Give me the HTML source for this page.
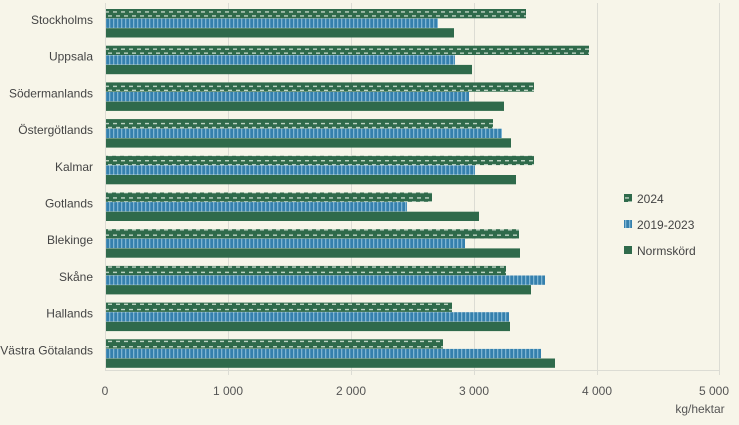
<!DOCTYPE html>
<html><head><meta charset="utf-8"><style>
body{margin:0;background:#f7f5e9;}
svg{display:block;font-family:"Liberation Sans",sans-serif;}
</style></head><body>
<svg width="739" height="425" viewBox="0 0 739 425">
<defs>
<pattern id="p24" width="8" height="9.3" patternUnits="userSpaceOnUse">
<rect width="8" height="9.3" fill="#2f6a4b"/>
<rect x="1" y="2" width="4" height="1.3" fill="#c9dccd"/>
<rect x="4" y="6" width="4" height="1.3" fill="#c9dccd"/>
</pattern>
<pattern id="p19" width="4" height="10" patternUnits="userSpaceOnUse">
<rect width="4" height="10" fill="#3580ad"/>
<rect x="1" width="1.3" height="10" fill="#7fb5d3"/>
</pattern>
</defs>
<rect width="739" height="425" fill="#f7f5e9"/>
<g stroke="#dcdcd4" stroke-width="1">
<line x1="105.5" y1="3" x2="105.5" y2="371"/>
<line x1="228.5" y1="3" x2="228.5" y2="375"/>
<line x1="351.5" y1="3" x2="351.5" y2="375"/>
<line x1="474.5" y1="3" x2="474.5" y2="375"/>
<line x1="597.5" y1="3" x2="597.5" y2="375"/>
<line x1="719.5" y1="3" x2="719.5" y2="375"/>
<line x1="105" y1="370.5" x2="720" y2="370.5"/>
</g>
<g id="bars"></g>
<g font-size="12" fill="#555" text-anchor="middle">
<text x="105" y="395">0</text><text x="228" y="395">1 000</text><text x="351" y="395">2 000</text>
<text x="474" y="395">3 000</text><text x="597" y="395">4 000</text><text x="714" y="395">5 000</text>
<text x="700" y="413" text-anchor="middle">kg/hektar</text>
</g>
<g font-size="12" fill="#444">
<rect x="624" y="194" width="8" height="8" fill="url(#p24)"/><text x="637" y="203">2024</text>
<rect x="624" y="220" width="8" height="8" fill="url(#p19)"/><text x="637" y="229">2019-2023</text>
<rect x="624" y="246" width="8" height="8" fill="#2f6a4b"/><text x="637" y="255">Normskörd</text>
</g>
<g id="labels" font-size="12" fill="#444" text-anchor="end"></g>
<script>
var d=[["Stockholms",526,438,454],["Uppsala",589,455,472],["Södermanlands",534,469,504],["Östergötlands",493,502,511],["Kalmar",534,475,516],["Gotlands",432,407,479],["Blekinge",519,465,520],["Skåne",506,545,531],["Hallands",452,509,510],["Västra Götalands",443,541,555]];
var ns="http://www.w3.org/2000/svg",b=document.getElementById("bars"),l=document.getElementById("labels");
d.forEach(function(r,i){var t=9+i*36.7;
var f=["url(#p24)","url(#p19)","#2f6a4b"];
for(var k=0;k<3;k++){var e=document.createElementNS(ns,"rect");e.setAttribute("x",106);e.setAttribute("y",t+k*9.6);e.setAttribute("width",r[k+1]-106);e.setAttribute("height",9.3);e.setAttribute("fill",f[k]);b.appendChild(e);}
var x=document.createElementNS(ns,"text");x.setAttribute("x",93);x.setAttribute("y",t+15);x.textContent=r[0];l.appendChild(x);});
</script>
</svg>
</body></html>
